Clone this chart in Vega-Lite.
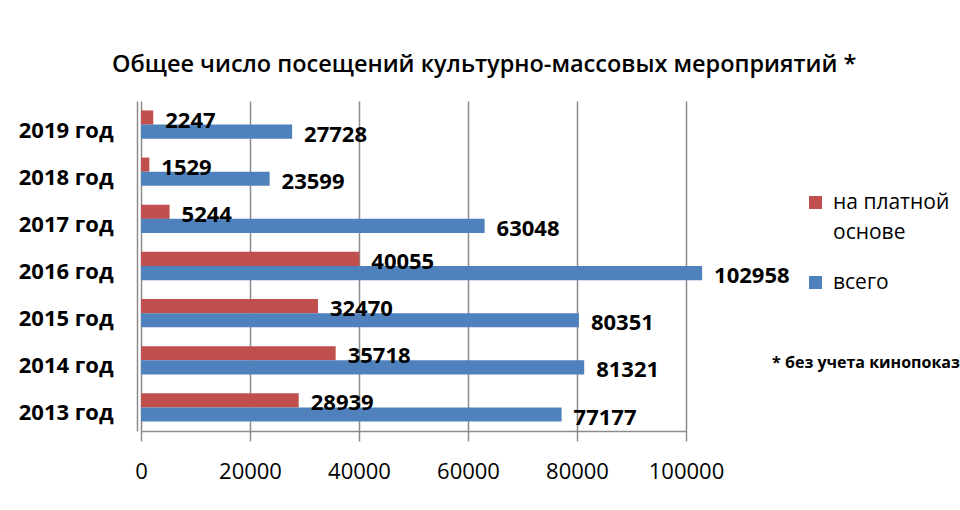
{
  "$schema": "https://vega.github.io/schema/vega-lite/v6.json",
  "width": 545,
  "height": 330,
  "autosize": "none",
  "padding": {"left": 141, "top": 101, "right": 274, "bottom": 79},
  "background": "white",
  "title": {
    "text": "Общее число посещений культурно-массовых мероприятий *",
    "anchor": "start",
    "frame": "group",
    "dx": -29,
    "offset": 25,
    "font": "Open Sans",
    "fontSize": 23.5,
    "fontWeight": 600,
    "color": "black"
  },
  "config": {
    "view": {"stroke": null},
    "font": "Open Sans"
  },
  "data": {
    "values": [
      {"year": "2019 год", "series": "на платной основе", "value": 2247},
      {"year": "2019 год", "series": "всего", "value": 27728},
      {"year": "2018 год", "series": "на платной основе", "value": 1529},
      {"year": "2018 год", "series": "всего", "value": 23599},
      {"year": "2017 год", "series": "на платной основе", "value": 5244},
      {"year": "2017 год", "series": "всего", "value": 63048},
      {"year": "2016 год", "series": "на платной основе", "value": 40055},
      {"year": "2016 год", "series": "всего", "value": 102958},
      {"year": "2015 год", "series": "на платной основе", "value": 32470},
      {"year": "2015 год", "series": "всего", "value": 80351},
      {"year": "2014 год", "series": "на платной основе", "value": 35718},
      {"year": "2014 год", "series": "всего", "value": 81321},
      {"year": "2013 год", "series": "на платной основе", "value": 28939},
      {"year": "2013 год", "series": "всего", "value": 77177}
    ]
  },
  "encoding": {
    "y": {
      "field": "year",
      "type": "nominal",
      "sort": ["2019 год", "2018 год", "2017 год", "2016 год", "2015 год", "2014 год", "2013 год"],
      "scale": {"paddingInner": 0.4, "paddingOuter": 0.2},
      "axis": {
        "title": null,
        "offset": 4,
        "ticks": false,
        "tickSize": 0,
        "labelPadding": 24,
        "labelOffset": 6,
        "labelFont": "Open Sans",
        "labelFontSize": 22,
        "labelFontWeight": "bold",
        "labelColor": "black",
        "labelExpr": "datum.value == '2017 год' ? datum.value + '\u00a0' : datum.value",
        "domainColor": "#8c8c8c",
        "domainWidth": 1.5
      }
    },
    "yOffset": {
      "field": "series",
      "type": "nominal",
      "sort": ["на платной основе", "всего"]
    }
  },
  "layer": [
    {
      "mark": {"type": "bar"},
      "encoding": {
        "x": {
          "field": "value",
          "type": "quantitative",
          "scale": {"domain": [0, 100000], "nice": false},
          "axis": {
            "title": null,
            "values": [0, 20000, 40000, 60000, 80000, 100000],
            "format": "d",
            "grid": true,
            "gridColor": "#8c8c8c",
            "gridWidth": 1.5,
            "domainColor": "#8c8c8c",
            "domainWidth": 1.5,
            "tickColor": "#8c8c8c",
            "tickWidth": 1.5,
            "tickSize": 10,
            "labelPadding": 20,
            "labelFont": "Open Sans",
            "labelFontSize": 22,
            "labelColor": "black",
            "labelFlush": false
          }
        },
        "color": {
          "field": "series",
          "type": "nominal",
          "sort": ["на платной основе", "всего"],
          "scale": {"domain": ["на платной основе", "всего"], "range": ["#c0504d", "#4f81bd"]},
          "legend": {
            "title": null,
            "orient": "none",
            "legendX": 664,
            "legendY": 91,
            "symbolType": "square",
            "symbolSize": 169,
            "symbolStrokeWidth": 0,
            "labelFont": "Open Sans",
            "labelFontSize": 21,
            "labelColor": "black",
            "labelOffset": 7,
            "labelLimit": 300,
            "rowPadding": 28,
            "labelExpr": "datum.label == 'на платной основе' ? ['на платной', 'основе'] : datum.label",
            "encode": {
              "labels": {"update": {"lineHeight": {"value": 30}}}
            }
          }
        }
      }
    },
    {
      "mark": {
        "type": "text",
        "align": "left",
        "baseline": "middle",
        "dx": 12,
        "dy": 3,
        "font": "Open Sans",
        "fontSize": 22,
        "fontWeight": "bold",
        "color": "black"
      },
      "encoding": {
        "x": {"field": "value", "type": "quantitative"},
        "text": {"field": "value", "type": "quantitative", "format": "d"}
      }
    },
    {
      "data": {"values": [{"note": "* без учета кинопоказа"}]},
      "mark": {
        "type": "text",
        "align": "left",
        "baseline": "middle",
        "dy": 3,
        "font": "Open Sans",
        "fontSize": 16,
        "fontWeight": "bold",
        "color": "black"
      },
      "encoding": {
        "x": {"datum": 115800, "type": "quantitative"},
        "y": {"datum": "2014 год", "type": "nominal"},
        "yOffset": null,
        "text": {"field": "note", "type": "nominal"}
      }
    }
  ]
}
